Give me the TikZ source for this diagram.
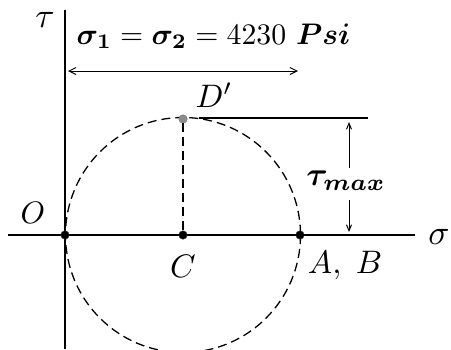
\documentclass[tikz,border=0pt]{standalone}
\usepackage{amsmath,bm}
\usetikzlibrary{arrows.meta}
\tikzset{
  axis/.style={line width=1.8pt},
  dot/.style={circle,fill=black,draw=black!80,inner sep=0pt,minimum size=8.5pt},
  graydot/.style={circle,fill=black!45,draw=black!55,inner sep=0pt,minimum size=8.5pt},
  dashline/.style={line width=1.3pt,dash pattern=on 9pt off 5pt},
  dimarrow/.style={line width=1pt,{Straight Barb[length=7pt,width=7pt]}-{Straight Barb[length=7pt,width=7pt]}},
  tarrow/.style={line width=1pt,-{Straight Barb[length=6pt,width=5pt]}},
  lbl/.style={inner sep=0pt,scale=3.1},
  glbl/.style={inner sep=0pt,scale=3.5}
}
\begin{document}
\begin{tikzpicture}[x=1pt,y=-1pt]
\useasboundingbox (0,0) rectangle (451,349);
% axes
\coordinate (ytop) at (65,10);
\coordinate (ybot) at (65,349);
\coordinate (xl) at (8,235);
\coordinate (xr) at (415,235);
\draw[axis] (ytop) -- (ybot);
\draw[axis] (xl) -- (xr);
% circle
\coordinate (cc) at (183,235);
\draw[dashline] (cc) circle (117.5);
% points
\node[dot] (O) at (65,235) {};
\node[dot] (C) at (183,235) {};
\node[dot] (AB) at (300,235) {};
\node[graydot] (D) at (183,119) {};
\draw[dashline] (D) -- (C);
% horizontal line at top
\coordinate (hl) at (199,118);
\coordinate (hr) at (368,118);
\draw[line width=1.3pt] (hl) -- (hr);
% tau max arrows
\coordinate (t1) at (349,168);
\coordinate (t2) at (349,122);
\coordinate (t3) at (349,200);
\coordinate (t4) at (349,232);
\draw[tarrow] (t1) -- (t2);
\draw[tarrow] (t3) -- (t4);
% dimension arrow
\coordinate (dl) at (68,71);
\coordinate (dr) at (298,71);
\draw[dimarrow] (dl) -- (dr);
% labels
\node[glbl] (tau) at (45,20) {$\tau$};
\node[glbl] (sig) at (439,237) {$\sigma$};
\node[lbl] (Ol) at (33,213) {$O$};
\node[lbl,scale=1.05] (Dl) at (214,95) {$D'$};
\node[lbl,scale=1.05] (Cl) at (183,266) {$C$};
\node[lbl,scale=1.05] (ABl) at (345,266) {$A,\;B$};
\node[lbl,scale=1.06] (tmax) at (346,181) {$\bm{\tau_{max}}$};
\node[lbl,anchor=west,scale=0.96] (eq) at (76,36) {$\bm{\sigma}_{\bm 1}=\bm{\sigma}_{\bm 2}=4230\ \bm{Psi}$};
\end{tikzpicture}
\end{document}
